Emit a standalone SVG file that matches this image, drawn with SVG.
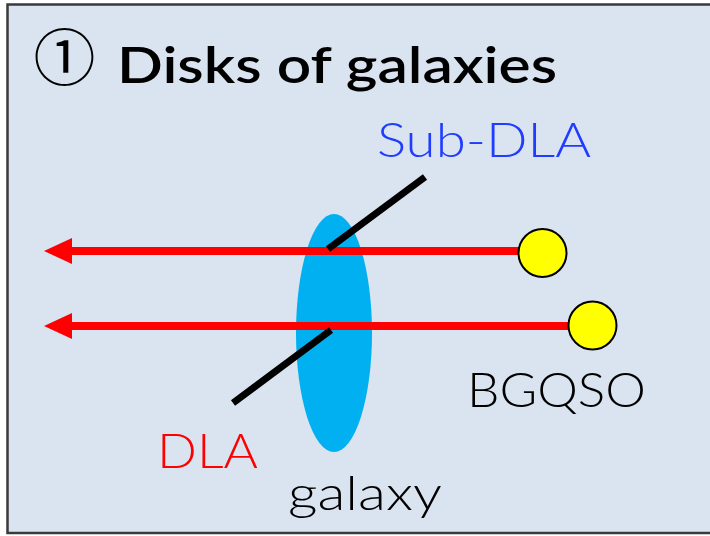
<svg xmlns="http://www.w3.org/2000/svg" width="710" height="536" viewBox="0 0 710 536">
<style>
.t{font-family:"Lato","Noto Sans","Liberation Sans",sans-serif}
.title{font-weight:600;font-size:50px;fill:#000}
.lbl{font-weight:300;font-size:48px}
.ray{stroke:#ff0000;stroke-width:8;fill:none}
.abs{stroke:#000;stroke-width:7;fill:none}
.qso{fill:#ffff00;stroke:#000;stroke-width:2}
</style>
<rect x="7.5" y="4.5" width="720" height="528.5" fill="#dae3f0" stroke="#3a3a3a" stroke-width="2.5"/>
<g id="title">
<text x="64.5" y="81" font-family="Noto Sans CJK JP,sans-serif" font-size="62" text-anchor="middle" fill="#000">①</text>
<text class="t title" x="117" y="83" textLength="440" lengthAdjust="spacingAndGlyphs">Disks of galaxies</text>
</g>
<g id="galaxy">
<ellipse cx="334" cy="333" rx="38" ry="119" fill="#00b0f0"/>
<text class="t lbl" x="288" y="510" fill="#000" textLength="154" lengthAdjust="spacingAndGlyphs">galaxy</text>
</g>
<g id="connectors">
<line class="ray" x1="520" y1="251" x2="70" y2="251"/>
<path d="M44,251 L72,238 L72,264 Z" fill="#ff0000"/>
<line class="ray" x1="570" y1="326" x2="70" y2="326"/>
<path d="M44,326 L72,313 L72,339 Z" fill="#ff0000"/>
</g>
<g id="subdla">
<line class="abs" x1="328" y1="249" x2="425" y2="177"/>
<text class="t lbl" x="377" y="157" fill="#1f3cff" textLength="214" lengthAdjust="spacingAndGlyphs">Sub-DLA</text>
</g>
<g id="dla">
<line class="abs" x1="331" y1="330" x2="233" y2="403"/>
<text class="t lbl" x="157" y="468" fill="#ff0000" textLength="101" lengthAdjust="spacingAndGlyphs">DLA</text>
</g>
<g id="qso1">
<circle class="qso" cx="542.5" cy="253" r="24"/>
</g>
<g id="qso2">
<circle class="qso" cx="592.5" cy="325.5" r="24"/>
<text class="t lbl" x="467" y="407" fill="#000" textLength="179" lengthAdjust="spacingAndGlyphs">BGQSO</text>
</g>
</svg>
